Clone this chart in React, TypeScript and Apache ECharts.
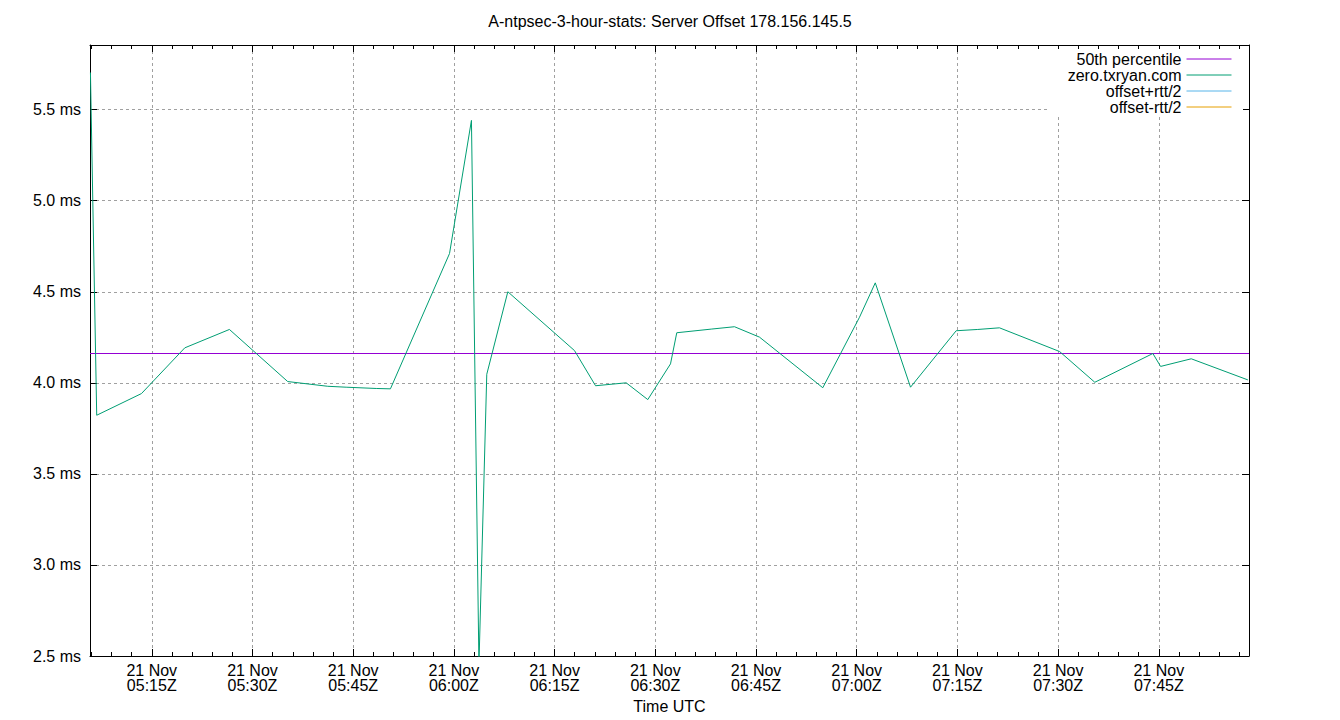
import React, { useEffect, useRef } from "react";
import * as echarts from "echarts";

// ---- data ----
const chartTitle = "A-ntpsec-3-hour-stats: Server Offset 178.156.145.5";
const dayUTC = [2025, 10, 21]; // 21 Nov (month is 0-based)
const legendNames = ["50th percentile", "zero.txryan.com", "offset+rtt/2", "offset-rtt/2"];
const seriesColors = ["#9400d3", "#009e73", "#56b4e9", "#e69f00"];

const sampleTimes = [
  "05:05:52", "05:06:48", "05:13:28", "05:19:55", "05:26:34", "05:35:15",
  "05:41:13", "05:43:57", "05:48:26", "05:50:33", "05:59:21", "06:02:37",
  "06:03:44", "06:04:54", "06:08:02", "06:17:58", "06:21:06", "06:25:40",
  "06:28:53", "06:32:16", "06:33:12", "06:38:20", "06:41:48", "06:45:31",
  "06:54:57", "07:00:25", "07:02:46", "07:08:01", "07:14:49", "07:18:02",
  "07:21:16", "07:30:13", "07:35:28", "07:44:07", "07:45:16", "07:49:50",
  "07:58:16",
];
const serverOffsetMs = [
  5.704, 3.822, 3.941, 4.192, 4.293, 4.007,
  3.981, 3.976, 3.969, 3.967, 4.710, 5.441,
  2.45, 4.047, 4.500, 4.177, 3.984, 4.000,
  3.908, 4.104, 4.275, 4.295, 4.308, 4.251,
  3.973, 4.360, 4.549, 3.976, 4.286, 4.293,
  4.302, 4.172, 4.003, 4.161, 4.090, 4.132,
  4.016,
];
const offsetPlusHalfRtt: number[] = [];
const offsetMinusHalfRtt: number[] = [];
const percentile50 = 4.161;

const xRange = ["05:05:48", "07:58:26"];
const xMajorTicks = ["05:15", "05:30", "05:45", "06:00", "06:15", "06:30", "06:45", "07:00", "07:15", "07:30", "07:45"];
const xMinorStepMin = 3;
const xMinorFirst = "05:06";
const xMinorLast = "07:57";
const yRange = [2.5, 5.855];
const yTicks = [2.5, 3.0, 3.5, 4.0, 4.5, 5.0, 5.5];

// ---- helpers ----
const toMs = (s: string) => {
  const p = s.split(":").map(Number);
  return Date.UTC(dayUTC[0], dayUTC[1], dayUTC[2], p[0], p[1], p[2] || 0);
};
const pad = (n: number) => String(n).padStart(2, "0");
const MONTHS = ["Jan", "Feb", "Mar", "Apr", "May", "Jun", "Jul", "Aug", "Sep", "Oct", "Nov", "Dec"];
const FONT = "'Liberation Sans', Arial, sans-serif";

export default function App() {
  const ref = useRef<HTMLDivElement>(null);
  useEffect(() => {
    if (!ref.current) return;
    const chart = echarts.init(ref.current, null, { renderer: "svg" });
    const xMin = toMs(xRange[0]);
    const xMax = toMs(xRange[1]);
    const majors = xMajorTicks.map(toMs);
    const minors: number[] = [];
    for (let t = toMs(xMinorFirst); t <= toMs(xMinorLast); t += xMinorStepMin * 60000) minors.push(t);

    const black = "#000";
    const gridLine = { show: true, lineStyle: { color: "#a0a0a0", width: 1, type: [3, 3] as any } };
    const xFmt = (v: number) => {
      const d = new Date(v);
      return `${d.getUTCDate()} ${MONTHS[d.getUTCMonth()]}\n${pad(d.getUTCHours())}:${pad(d.getUTCMinutes())}Z`;
    };

    const baseX = { type: "value", min: xMin, max: xMax, gridIndex: 0 };
    const baseY = { type: "value", min: yRange[0], max: yRange[1], gridIndex: 0 };

    const option: any = {
      animation: false,
      backgroundColor: "#fff",
      title: {
        text: chartTitle,
        left: "center",
        top: 13,
        padding: 0,
        textStyle: { fontSize: 16, fontWeight: "normal", color: black, fontFamily: FONT },
      },
      legend: {
        data: legendNames,
        orient: "vertical",
        align: "right",
        right: 97,
        top: 49,
        padding: [2, 11, 2, 19],
        itemWidth: 45,
        itemHeight: 15,
        itemGap: 0,
        backgroundColor: "#fff",
        selectedMode: false,
        itemStyle: { opacity: 0 },
        lineStyle: { width: 1 },
        textStyle: { fontSize: 16, color: black, fontFamily: FONT },
      },
      grid: { left: 90, top: 45, width: 1159, height: 611, containLabel: false },
      xAxis: [
        {
          ...baseX,
          position: "bottom",
          axisLine: { show: true, onZero: false, lineStyle: { color: black, width: 1 } },
          axisTick: { show: true, inside: true, length: 7, customValues: majors, lineStyle: { color: black } },
          axisLabel: {
            customValues: majors,
            formatter: xFmt,
            margin: 7,
            color: black,
            fontSize: 16,
            lineHeight: 15,
            fontFamily: FONT,
          },
          splitLine: gridLine,
          name: "Time UTC",
          nameLocation: "middle",
          nameGap: 42,
          nameTextStyle: { fontSize: 16, color: black, fontFamily: FONT },
        },
        {
          ...baseX,
          position: "bottom",
          axisLine: { show: false, onZero: false },
          axisTick: { show: true, inside: true, length: 4, customValues: minors, lineStyle: { color: black } },
          axisLabel: { show: false },
          splitLine: { show: false },
        },
        {
          ...baseX,
          position: "top",
          axisLine: { show: true, onZero: false, lineStyle: { color: black, width: 1 } },
          axisTick: { show: true, inside: true, length: 7, customValues: majors, lineStyle: { color: black } },
          axisLabel: { show: false },
          splitLine: { show: false },
        },
        {
          ...baseX,
          position: "top",
          axisLine: { show: false, onZero: false },
          axisTick: { show: true, inside: true, length: 4, customValues: minors, lineStyle: { color: black } },
          axisLabel: { show: false },
          splitLine: { show: false },
        },
      ],
      yAxis: [
        {
          ...baseY,
          position: "left",
          axisLine: { show: true, onZero: false, lineStyle: { color: black, width: 1 } },
          axisTick: { show: true, inside: true, length: 7, customValues: yTicks, lineStyle: { color: black } },
          axisLabel: {
            customValues: yTicks,
            formatter: (v: number) => `${v.toFixed(1)} ms`,
            margin: 9,
            color: black,
            fontSize: 16,
            fontFamily: FONT,
          },
          splitLine: gridLine,
        },
        {
          ...baseY,
          position: "right",
          axisLine: { show: true, onZero: false, lineStyle: { color: black, width: 1 } },
          axisTick: { show: true, inside: true, length: 7, customValues: yTicks, lineStyle: { color: black } },
          axisLabel: { show: false },
          splitLine: { show: false },
        },
      ],
      series: [
        {
          name: legendNames[0],
          type: "line",
          xAxisIndex: 0,
          yAxisIndex: 0,
          symbol: "none",
          lineStyle: { width: 1, color: seriesColors[0] },
          itemStyle: { color: seriesColors[0] },
          data: [[xMin, percentile50], [xMax, percentile50]],
        },
        {
          name: legendNames[1],
          type: "line",
          xAxisIndex: 0,
          yAxisIndex: 0,
          symbol: "none",
          clip: true,
          lineStyle: { width: 1, color: seriesColors[1] },
          itemStyle: { color: seriesColors[1] },
          data: sampleTimes.map((t, i) => [toMs(t), serverOffsetMs[i]]),
        },
        {
          name: legendNames[2],
          type: "line",
          symbol: "none",
          lineStyle: { width: 1, color: seriesColors[2] },
          itemStyle: { color: seriesColors[2] },
          data: offsetPlusHalfRtt,
        },
        {
          name: legendNames[3],
          type: "line",
          symbol: "none",
          lineStyle: { width: 1, color: seriesColors[3] },
          itemStyle: { color: seriesColors[3] },
          data: offsetMinusHalfRtt,
        },
      ],
    };
    chart.setOption(option);
    return () => chart.dispose();
  }, []);
  return (
    <div
      ref={ref}
      style={{ position: "absolute", left: 0, top: 0, width: 1340, height: 720, background: "#fff" }}
    />
  );
}
